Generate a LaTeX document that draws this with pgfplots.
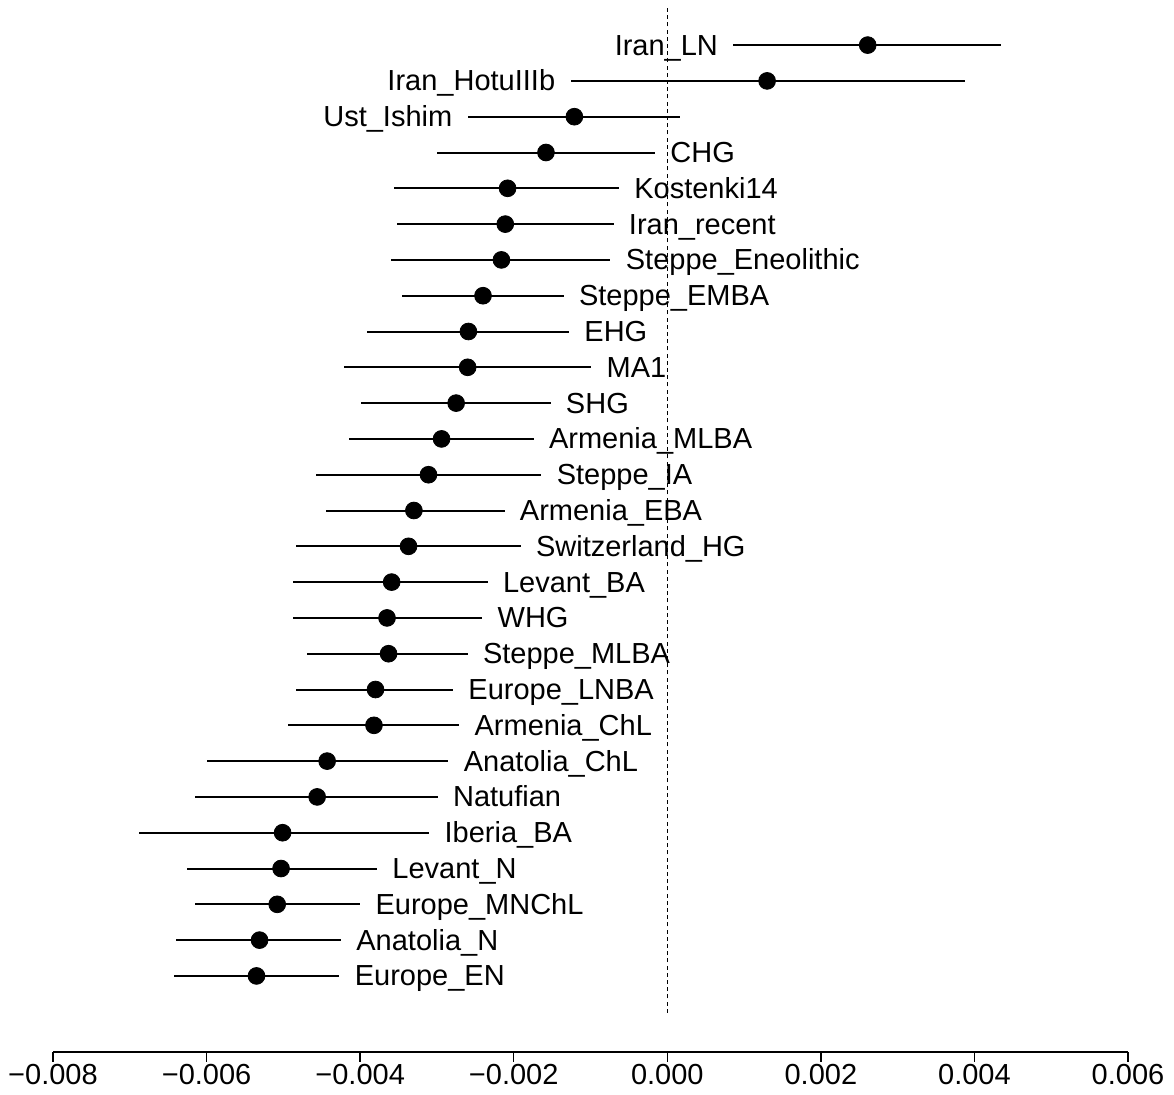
\documentclass[border=0pt]{standalone}
\usepackage{fontspec}
\setmainfont{Liberation Sans}
\usepackage{pgfplots}
\usepackage{pgfplotstable}
\pgfplotsset{compat=1.18}
\pgfplotstableread{
name x lo hi y
Iran\_LN 0.00261 0.00086 0.00434 27
Iran\_HotuIIIb 0.00130 -0.00126 0.00388 26
Ust\_Ishim -0.00121 -0.00260 0.00017 25
CHG -0.00158 -0.00300 -0.00016 24
Kostenki14 -0.00208 -0.00356 -0.00063 23
Iran\_recent -0.00211 -0.00352 -0.00070 22
Steppe\_Eneolithic -0.00216 -0.00360 -0.00074 21
Steppe\_EMBA -0.00240 -0.00345 -0.00135 20
EHG -0.00259 -0.00391 -0.00128 19
MA1 -0.00260 -0.00421 -0.00099 18
SHG -0.00275 -0.00399 -0.00152 17
Armenia\_MLBA -0.00294 -0.00415 -0.00174 16
Steppe\_IA -0.00311 -0.00457 -0.00164 15
Armenia\_EBA -0.00330 -0.00445 -0.00212 14
Switzerland\_HG -0.00337 -0.00483 -0.00191 13
Levant\_BA -0.00359 -0.00487 -0.00234 12
WHG -0.00365 -0.00488 -0.00241 11
Steppe\_MLBA -0.00363 -0.00469 -0.00260 10
Europe\_LNBA -0.00380 -0.00484 -0.00279 9
Armenia\_ChL -0.00382 -0.00494 -0.00271 8
Anatolia\_ChL -0.00443 -0.00599 -0.00285 7
Natufian -0.00456 -0.00615 -0.00299 6
Iberia\_BA -0.00501 -0.00688 -0.00310 5
Levant\_N -0.00503 -0.00626 -0.00378 4
Europe\_MNChL -0.00508 -0.00615 -0.00400 3
Anatolia\_N -0.00531 -0.00640 -0.00425 2
Europe\_EN -0.00535 -0.00642 -0.00427 1
}\data
\begin{document}
\begin{tikzpicture}
\begin{axis}[
  scale only axis,
  width=537.5pt, height=525.9pt,
  xmin=-0.008, xmax=0.006,
  ymin=-1.12, ymax=28.26,
  clip=false,
  axis x line*=bottom,
  axis y line=none,
  axis line style={line width=0.75pt},
  xtick={-0.008,-0.006,-0.004,-0.002,0,0.002,0.004,0.006},
  xticklabels={−0.008,−0.006,−0.004,−0.002,0.000,0.002,0.004,0.006},
  scaled x ticks=false,
  tick align=outside,
  major tick length=5pt,
  tick style={line width=0.75pt, black},
  ticklabel style={font=\fontsize{14.5}{17}\selectfont, inner sep=0pt},
  xticklabel style={yshift=-1pt},
]
\addplot[densely dashed, dash pattern=on 2pt off 1.6pt, line width=0.6pt] coordinates {(0,-0.03) (0,28.04)};
\addplot[only marks, mark=*, mark size=4.2pt, mark options={fill=black, draw=black},
  error bars/.cd, x dir=both, x explicit, error mark=none,
  error bar style={line width=1pt, black}]
  table[x=x, y=y, x error plus expr=\thisrow{hi}-\thisrow{x}, x error minus expr=\thisrow{x}-\thisrow{lo}] {\data};
\addplot[draw=none, mark=none, restrict y to domain=0.5:24.5,
  nodes near coords, point meta=explicit symbolic,
  nodes near coords style={anchor=base west, inner sep=0pt, xshift=7.5pt, yshift=-5pt,
    font=\fontsize{14.5}{17}\selectfont, text=black}]
  table[x=hi, y=y, meta=name] {\data};
\addplot[draw=none, mark=none, restrict y to domain=24.5:27.5,
  nodes near coords, point meta=explicit symbolic,
  nodes near coords style={anchor=base east, inner sep=0pt, xshift=-7.5pt, yshift=-5pt,
    font=\fontsize{14.5}{17}\selectfont, text=black}]
  table[x=lo, y=y, meta=name] {\data};
\end{axis}
\pgfresetboundingbox
\path ([xshift=-26.5pt, yshift=-21.5pt]current axis.south west) rectangle ([xshift=23pt]current axis.north east);
\end{tikzpicture}
\end{document}
